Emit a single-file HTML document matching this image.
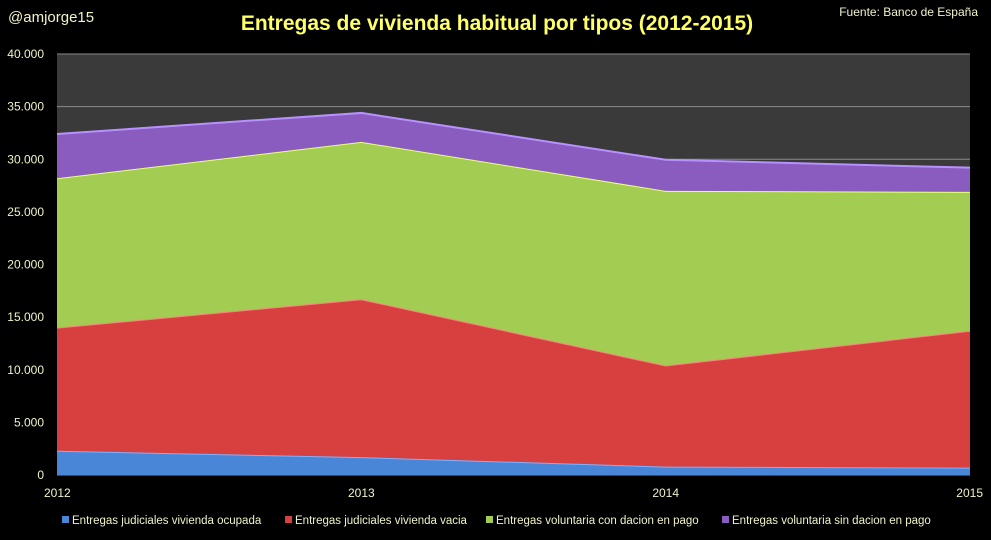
<!DOCTYPE html>
<html><head><meta charset="utf-8"><style>
body{margin:0;background:#000;width:991px;height:535px;overflow:hidden;font-family:"Liberation Sans",sans-serif}
svg text{fill:#f2f2c8}
</style></head><body>
<svg width="991" height="535">
<text x="8" y="22" font-size="15">@amjorge15</text>
<text x="497" y="30" font-size="21" font-weight="bold" text-anchor="middle" style="fill:#ffff66">Entregas de vivienda habitual por tipos (2012-2015)</text>
<text x="978" y="16" font-size="12" text-anchor="end">Fuente: Banco de España</text>
<rect x="57" y="54" width="913" height="421" fill="#3a3a3a"/>
<g id="grid"></g><g id="areas"></g><g id="axes"></g><g id="legend"></g>
</svg>
<script>
const years=["2012","2013","2014","2015"];
const ocupada=[2300,1700,800,700];
const vacia=[11700,15000,9600,13000];
const conDacion=[14200,14950,16600,13200];
const sinDacion=[4200,2750,2950,2300];
const yTicks=[0,5000,10000,15000,20000,25000,30000,35000,40000];
const seriesNames=["Entregas judiciales vivienda ocupada","Entregas judiciales vivienda vacia","Entregas voluntaria con dacion en pago","Entregas voluntaria sin dacion en pago"];
const colors=["#4a86d8","#d84040","#a2cc52","#8a5cc0"];
const edges=["#7fb2ff","#ff8080","#e8ff80","#b890ff"];
const NS="http://www.w3.org/2000/svg";
const X=i=>57+i*(913/(years.length-1));
const Y=v=>475-v/40000*421;
function mk(t,a,p){const e=document.createElementNS(NS,t);for(const k in a)e.setAttribute(k,a[k]);p.appendChild(e);return e;}
const grid=document.getElementById('grid'),axes=document.getElementById('axes');
yTicks.forEach(t=>{
 const l=mk('line',{x1:57,x2:970,y1:Y(t),y2:Y(t),stroke:'#8a8a8a','stroke-width':1},grid);
 
 
 const tx=mk('text',{x:44,y:Y(t)+4,'font-size':12,'text-anchor':'end'},axes);
 tx.textContent=t===0?'0':t.toLocaleString('de-DE');
 
 
});
years.forEach((y,i)=>{
 const anchor=i===0?'start':(i===years.length-1?'end':'middle');
 const tx=mk('text',{x:i===0?44:(i===years.length-1?983:X(i)),y:497,'font-size':12,'text-anchor':anchor},axes);
 tx.textContent=y;
 
 
});
const series=[ocupada,vacia,conDacion,sinDacion];
const areas=document.getElementById('areas');
let base=years.map(()=>0);
series.forEach((s,k)=>{
 const top=base.map((b,i)=>b+s[i]);
 let d='M'+top.map((v,i)=>X(i)+','+Y(v)).join(' L');
 for(let i=years.length-1;i>=0;i--)d+=' L'+X(i)+','+Y(base[i]);
 const p=mk('path',{d:d+'Z',fill:colors[k]},areas);
 
 
 const e=mk('polyline',{points:top.map((v,i)=>X(i)+','+Y(v)).join(' '),fill:'none',stroke:edges[k],'stroke-width':2},areas);
 
 
 base=top;
});
const lg=document.getElementById('legend');
const lx=[62,285,486,722];
seriesNames.forEach((n,k)=>{
 const r=mk('rect',{x:lx[k],y:516,width:7,height:7,fill:colors[k]},lg);
 
 
 const t=mk('text',{x:lx[k]+10,y:524,'font-size':11.5},lg);
 t.textContent=n;
 
 
});
</script>
</body></html>
